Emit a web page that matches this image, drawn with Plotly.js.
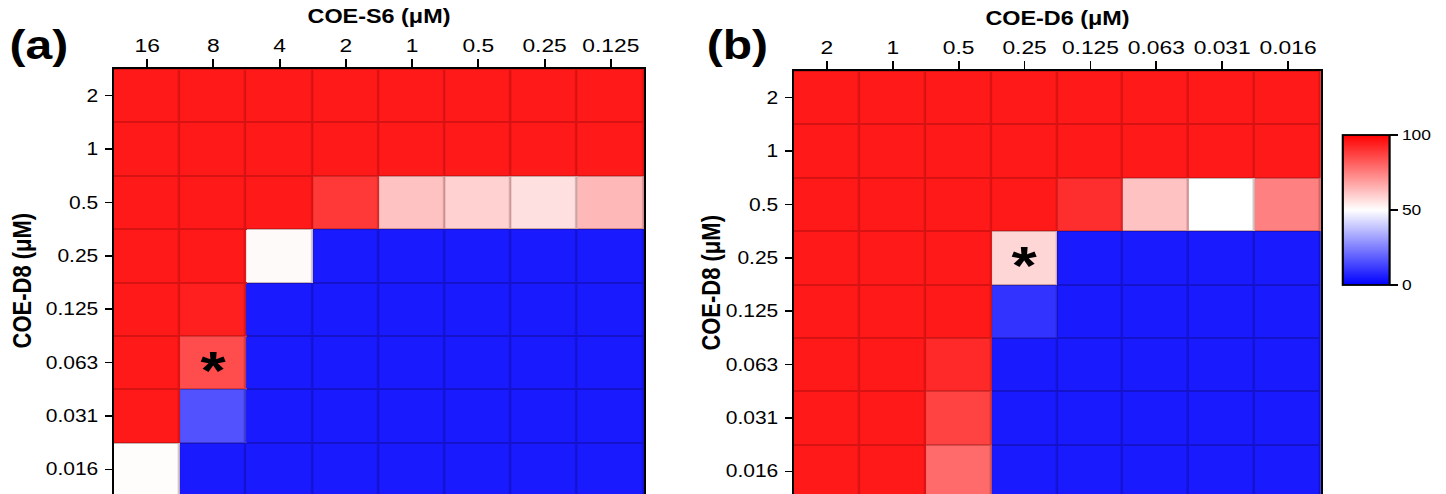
<!DOCTYPE html>
<html>
<head>
<meta charset="utf-8">
<script src="https://cdn.plot.ly/plotly-3.0.1.min.js"></script>
<style>
html,body{margin:0;padding:0;background:#fff;overflow:hidden;}
#chart{width:1205px;height:500px;transform:scaleX(1.2);transform-origin:0 0;}
</style>
</head>
<body>
<div id="chart"></div>
<script>
// Row categories (COE-D8, µM), shared by both panels
const rowsD8 = ['2','1','0.5','0.25','0.125','0.063','0.031','0.016'];
// Column categories
const colsS6 = ['16','8','4','2','1','0.5','0.25','0.125'];
const colsD6 = ['2','1','0.5','0.25','0.125','0.063','0.031','0.016'];

// Growth (%) panel (a): rows = COE-D8, cols = COE-S6
const growthA = [
  [95,95,95,95,95,95,95,95],
  [95,95,95,95,95,95,95,95],
  [95,95,95,89,62,59,56,64],
  [95,95,51, 5, 5, 5, 5, 5],
  [95,94, 5, 5, 5, 5, 5, 5],
  [95,85, 5, 5, 5, 5, 5, 5],
  [95,16, 5, 5, 5, 5, 5, 5],
  [50.5, 5, 5, 5, 5, 5, 5, 5]
];
// Growth (%) panel (b): rows = COE-D8, cols = COE-D6
const growthB = [
  [95,95,95,95,95,95,95,95],
  [95,95,95,95,95,95,95,95],
  [95,95,95,95,91,62,50,75],
  [95,95,95,58, 5, 5, 5, 5],
  [95,95,95,10, 5, 5, 5, 5],
  [95,95,92, 5, 5, 5, 5, 5],
  [95,95,87, 5, 5, 5, 5, 5],
  [95,95,79, 5, 5, 5, 5, 5]
];
const colorbarTicks = [0, 50, 100];
// Marked (starred) combinations: [column label, row label]
const starA = ['8', '0.063'];
const starB = ['0.25', '0.25'];

const FONT = 'Liberation Sans, Arial, Helvetica, sans-serif';
const W = 1205, H = 500;  // drawing size before the 1.2x horizontal stretch
const mainScale = [[0,'rgb(0,0,255)'],[0.5,'rgb(255,255,255)'],[1,'rgb(255,0,0)']];
const edgeScale = [[0,'rgb(0,0,205)'],[0.5,'rgb(200,185,185)'],[1,'rgb(215,0,0)']];

function layers(cols, z, xa, ya, withBar){
  const base = {type:'heatmap', x:cols, y:rowsD8, z:z, xaxis:xa, yaxis:ya,
    zmin:0, zmax:100, colorscale:edgeScale, showscale:false, hoverinfo:'skip'};
  const top = {type:'heatmap', x:cols, y:rowsD8, z:z, xaxis:xa, yaxis:ya,
    zmin:0, zmax:100, colorscale:mainScale, xgap:1.7, ygap:2, showscale:withBar};
  if(withBar){
    top.colorbar = {x:1343/1446, xanchor:'left', xpad:0, ypad:0,
      y:1-210/H, yanchor:'middle', len:150, lenmode:'pixels',
      thickness:38.5, thicknessmode:'pixels', outlinecolor:'#000', outlinewidth:1.8,
      tickvals:colorbarTicks, ticks:'outside', ticklen:7, tickwidth:1.8, tickcolor:'#000',
      tickfont:{family:FONT, size:14.5, color:'#000'}};
  }
  return [base, top];
}

const data = [...layers(colsS6, growthA, 'x', 'y', false), ...layers(colsD6, growthB, 'x2', 'y2', true)];

function xax(domain, cats, title, anchor){
  return {domain:domain, type:'category', categoryorder:'array', categoryarray:cats,
    range:[-0.5,7.5], side:'top', anchor:anchor, showgrid:false, zeroline:false,
    showline:true, mirror:true, linecolor:'#000', linewidth:1.6,
    ticks:'outside', ticklen:8, tickwidth:1.5, tickcolor:'#000',
    tickfont:{family:FONT, size:19, color:'#000'},
    title:{text:title, font:{family:FONT, size:19.5, color:'#000', weight:'bold'}, standoff:6},
    automargin:false, fixedrange:true};
}
function yax(domain, anchor){
  return {domain:domain, type:'category', categoryorder:'array', categoryarray:rowsD8,
    range:[7.5,-0.5], anchor:anchor, showgrid:false, zeroline:false,
    showline:true, mirror:true, linecolor:'#000', linewidth:1.6,
    ticks:'outside', ticklen:6, tickwidth:1.5, tickcolor:'#000', ticklabelstandoff:2,
    tickfont:{family:FONT, size:17.5, color:'#000'},
    automargin:false, fixedrange:true};
}

const starAnn = (star, cols, xr, yr) => ({text:'<b>*</b>', xref:xr, yref:yr,
  x:cols.indexOf(star[0]), y:rowsD8.indexOf(star[1]), showarrow:false, yshift:-7,
  font:{family:FONT, size:54, color:'#000'}});

const layout = {
  width:W, height:H,
  margin:{l:0, r:0, t:0, b:0},
  paper_bgcolor:'#fff', plot_bgcolor:'#fff',
  font:{family:FONT, color:'#000'},
  xaxis: xax([114/1446, 644/1446], colsS6, 'COE-S6 (μM)', 'y'),
  yaxis: yax([1-496/H, 1-69/H], 'x'),
  xaxis2: xax([794/1446, 1321/1446], colsD6, 'COE-D6 (μM)', 'y2'),
  yaxis2: yax([1-498/H, 1-71/H], 'x2'),
  annotations:[
    {text:'<b>(a)</b>', xref:'paper', yref:'paper', x:7/1446, y:1-45/H, xanchor:'left', yanchor:'middle',
     showarrow:false, font:{family:FONT, size:40, color:'#000'}},
    {text:'<b>(b)</b>', xref:'paper', yref:'paper', x:704/1446, y:1-45/H, xanchor:'left', yanchor:'middle',
     showarrow:false, font:{family:FONT, size:40, color:'#000'}},
    {text:'<b>COE-D8 (μM)</b>', xref:'paper', yref:'paper', x:21/1446, y:1-281/H, textangle:-90,
     xanchor:'center', yanchor:'middle', showarrow:false, font:{family:FONT, size:22, color:'#000'}},
    {text:'<b>COE-D8 (μM)</b>', xref:'paper', yref:'paper', x:710/1446, y:1-283/H, textangle:-90,
     xanchor:'center', yanchor:'middle', showarrow:false, font:{family:FONT, size:22, color:'#000'}},
    starAnn(starA, colsS6, 'x', 'y'),
    starAnn(starB, colsD6, 'x2', 'y2')
  ],
  showlegend:false
};

Plotly.newPlot('chart', data, layout, {displayModeBar:false, staticPlot:true});
</script>
</body>
</html>
